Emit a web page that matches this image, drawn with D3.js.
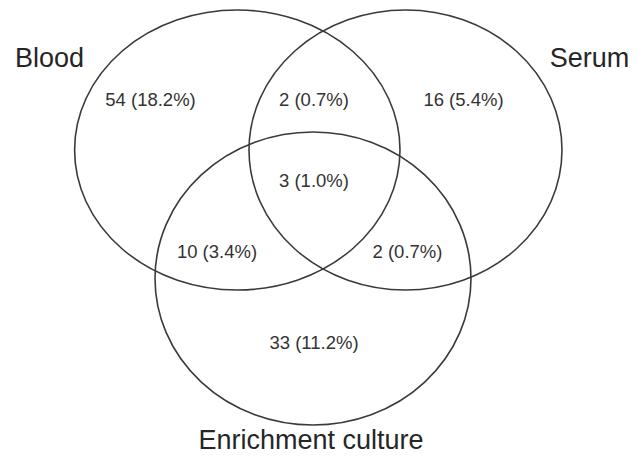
<!DOCTYPE html>
<html>
<head>
<meta charset="utf-8">
<script src="https://cdn.jsdelivr.net/npm/d3@7"></script>
<style>
  html, body { margin: 0; padding: 0; background: #fff; }
  svg { display: block; }
  text { font-family: "Liberation Sans", Arial, sans-serif; }
</style>
</head>
<body>
<svg width="644" height="456"></svg>
<script>
// sets and region values
const sets = ['Blood', 'Serum', 'Enrichment culture'];
const regionMembers = [
  ['Blood'],
  ['Blood', 'Serum'],
  ['Serum'],
  ['Blood', 'Serum', 'Enrichment culture'],
  ['Blood', 'Enrichment culture'],
  ['Serum', 'Enrichment culture'],
  ['Enrichment culture']
];
const regionCounts = [54, 2, 16, 3, 10, 2, 33];
const regionPercents = [18.2, 0.7, 5.4, 1.0, 3.4, 0.7, 11.2];

// layout (reference pixel space, mapped through scales below)
const ellipses = [
  { cx: 237.3, cy: 150, rx: 162.7, ry: 140 },
  { cx: 405.5, cy: 150, rx: 156.5, ry: 140 },
  { cx: 313, cy: 278.5, rx: 158, ry: 146.5 }
];
const setLabelPos = [[49.5, 67], [589.5, 67], [311, 449]];
const regionLabelPos = [[150.5, 105.5], [314, 105.5], [463.5, 105.5], [314, 186.5],
                        [217, 258], [407.5, 258], [314, 348.5]];

const svg = d3.select('svg');
const width = +svg.attr('width');
const height = +svg.attr('height');

const x = d3.scaleLinear().domain([0, 644]).range([0, width]);
const y = d3.scaleLinear().domain([0, 456]).range([0, height]);

svg.append('g')
  .selectAll('ellipse')
  .data(sets)
  .join('ellipse')
    .attr('cx', (d, i) => x(ellipses[i].cx))
    .attr('cy', (d, i) => y(ellipses[i].cy))
    .attr('rx', (d, i) => x(ellipses[i].rx) - x(0))
    .attr('ry', (d, i) => y(ellipses[i].ry) - y(0))
    .attr('fill', 'none')
    .attr('stroke', '#3a3a3a')
    .attr('stroke-width', 1.6);

// set names
svg.append('g')
  .selectAll('text')
  .data(sets)
  .join('text')
    .attr('x', (d, i) => x(setLabelPos[i][0]))
    .attr('y', (d, i) => y(setLabelPos[i][1]))
    .attr('text-anchor', 'middle')
    .attr('font-size', 27)
    .attr('fill', '#262626')
    .text(d => d);

// region counts
svg.append('g')
  .selectAll('text')
  .data(regionCounts)
  .join('text')
    .attr('x', (d, i) => x(regionLabelPos[i][0]))
    .attr('y', (d, i) => y(regionLabelPos[i][1]))
    .attr('text-anchor', 'middle')
    .attr('font-size', 18.5)
    .attr('fill', '#333')
    .text((d, i) => `${d} (${regionPercents[i].toFixed(1)}%)`);
</script>
</body>
</html>
